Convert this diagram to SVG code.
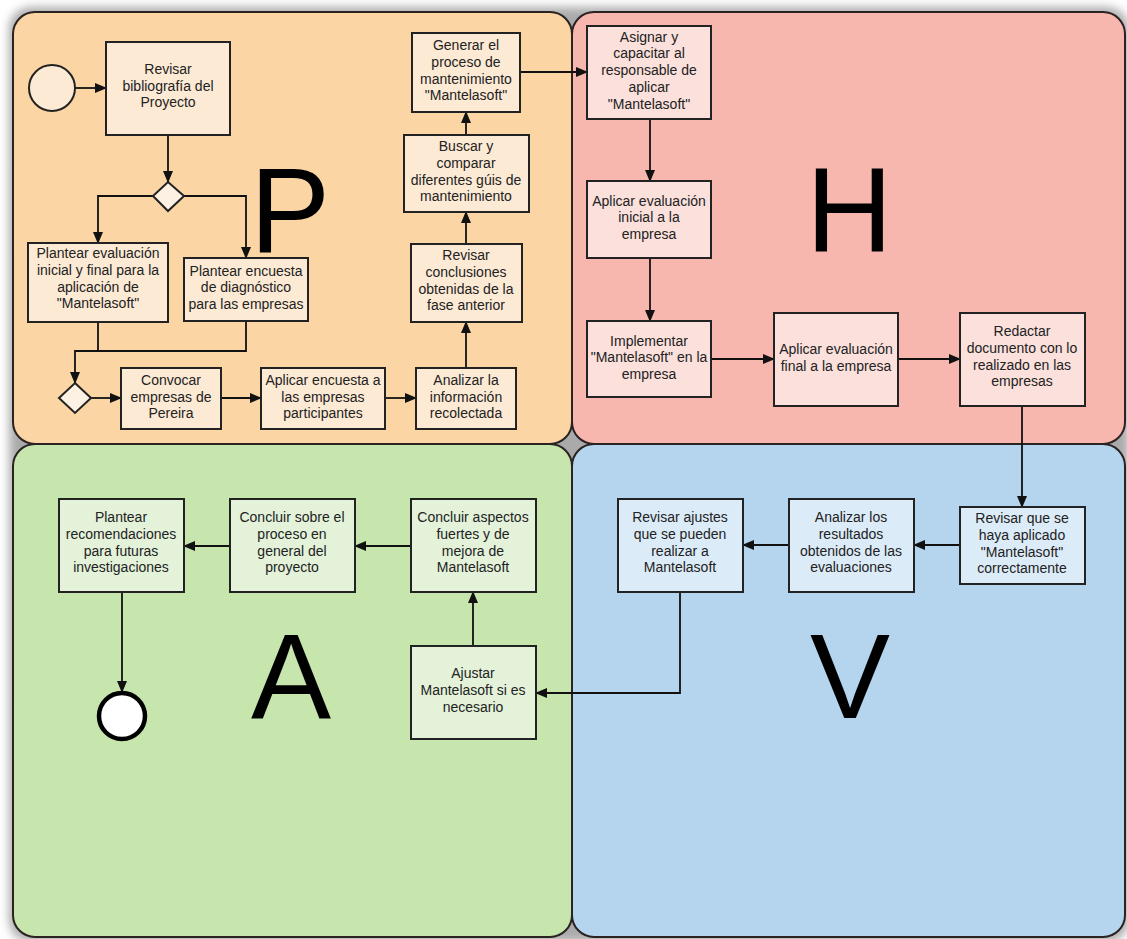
<svg xmlns="http://www.w3.org/2000/svg" width="1127" height="939" viewBox="0 0 1127 939">
<defs>
<style>
.t{font-family:"Liberation Sans",Arial,sans-serif;font-size:14px;fill:#222;text-anchor:middle}
.big{font-family:"Liberation Sans",Arial,sans-serif;font-size:120px;fill:#000}
.box{stroke:#222;stroke-width:2}
.bp{fill:#fdead5}.bh{fill:#fbe0dc}.ba{fill:#e4f2da}.bv{fill:#dcebf8}
.panel{stroke:#2b2222;stroke-width:2}
.c{fill:none;stroke:#111;stroke-width:1.8;marker-end:url(#ah)}
.cn{fill:none;stroke:#111;stroke-width:1.8}
</style>
<marker id="ah" markerUnits="userSpaceOnUse" markerWidth="12" markerHeight="10" refX="11" refY="5" orient="auto"><path d="M0,0 L12,5 L0,10 z" fill="#111"/></marker>
<filter id="sh" x="-5%" y="-5%" width="110%" height="110%"><feGaussianBlur stdDeviation="5"/></filter>
</defs>
<rect x="0" y="0" width="1127" height="939" fill="#fff"/>
<rect x="9" y="7" width="1120" height="935" rx="22" fill="#666" opacity="0.55" filter="url(#sh)"/>
<g id="panels">
<rect class="panel" x="13" y="12" width="559" height="432" rx="22" fill="#fbd5a4"/>
<rect class="panel" x="572" y="12" width="553" height="432" rx="22" fill="#f8b7ae"/>
<rect class="panel" x="13" y="444" width="559" height="493" rx="22" fill="#c6e6ae"/>
<rect class="panel" x="572" y="444" width="553" height="493" rx="22" fill="#b5d5ef"/>
</g>
<g id="letters">
<text class="big" x="250" y="252">P</text>
<text class="big" x="806" y="252">H</text>
<text class="big" x="251" y="718">A</text>
<text class="big" x="810" y="718">V</text>
</g>
<g id="connectors">
<path class="c" d="M75 88 H106"/>
<path class="c" d="M168 135 V182"/>
<path class="c" d="M153 196 H98 V243"/>
<path class="c" d="M184 196 H246 V258"/>
<path class="cn" d="M98 322 V351"/>
<path class="c" d="M246 321 V351 H75 V383"/>
<path class="c" d="M91 398 H121"/>
<path class="c" d="M221 398 H261"/>
<path class="c" d="M385 398 H416"/>
<path class="c" d="M466 368 V322"/>
<path class="c" d="M466 244 V212"/>
<path class="c" d="M466 135 V112"/>
<path class="c" d="M520 72 H587"/>
<path class="c" d="M650 119 V181"/>
<path class="c" d="M650 258 V321"/>
<path class="c" d="M711 359 H774"/>
<path class="c" d="M898 359 H960"/>
<path class="c" d="M1022 406 V507"/>
<path class="c" d="M960 545 H914"/>
<path class="c" d="M789 545 H743"/>
<path class="c" d="M680 592 V693 H536"/>
<path class="c" d="M473 646 V592"/>
<path class="c" d="M411 546 H355"/>
<path class="c" d="M230 546 H184"/>
<path class="c" d="M122 592 V692"/>
</g>
<g id="start"><circle cx="52" cy="88" r="23" fill="#fdead5" stroke="#222" stroke-width="2"/></g>
<g id="end"><circle cx="122" cy="716" r="23" fill="#fff" stroke="#000" stroke-width="4.5"/></g>
<g id="gw1"><polygon points="168,182 184,196 168,211 153,196" fill="#fdf1e3" stroke="#222" stroke-width="2"/></g>
<g id="gw2"><polygon points="75,383 91,398 75,413 59,398" fill="#fdf1e3" stroke="#222" stroke-width="2"/></g>
<g id="n1"><rect class="box bp" x="106" y="42" width="124" height="93"/>
<text class="t" x="168" y="74">Revisar</text><text class="t" x="168" y="91">bibliografía del</text><text class="t" x="168" y="107">Proyecto</text></g>
<g id="n2"><rect class="box bp" x="28" y="243" width="140" height="79"/>
<text class="t" x="98" y="258">Plantear evaluación</text><text class="t" x="98" y="275">inicial y final para la</text><text class="t" x="98" y="292">aplicación de</text><text class="t" x="98" y="308">"Mantelasoft"</text></g>
<g id="n3"><rect class="box bp" x="184" y="258" width="124" height="63"/>
<text class="t" x="246" y="276">Plantear encuesta</text><text class="t" x="246" y="292">de diagnóstico</text><text class="t" x="246" y="309">para las empresas</text></g>
<g id="n4"><rect class="box bp" x="121" y="368" width="100" height="61"/>
<text class="t" x="171" y="385">Convocar</text><text class="t" x="171" y="402">empresas de</text><text class="t" x="171" y="418">Pereira</text></g>
<g id="n5"><rect class="box bp" x="261" y="368" width="124" height="61"/>
<text class="t" x="323" y="385">Aplicar encuesta a</text><text class="t" x="323" y="402">las empresas</text><text class="t" x="323" y="418">participantes</text></g>
<g id="n6"><rect class="box bp" x="416" y="368" width="100" height="61"/>
<text class="t" x="466" y="385">Analizar la</text><text class="t" x="466" y="402">información</text><text class="t" x="466" y="418">recolectada</text></g>
<g id="n7"><rect class="box bp" x="411" y="244" width="111" height="78"/>
<text class="t" x="466" y="260">Revisar</text><text class="t" x="466" y="277">conclusiones</text><text class="t" x="466" y="294">obtenidas de la</text><text class="t" x="466" y="310">fase anterior</text></g>
<g id="n8"><rect class="box bp" x="404" y="135" width="125" height="77"/>
<text class="t" x="466" y="151">Buscar y</text><text class="t" x="466" y="168">comparar</text><text class="t" x="466" y="185">diferentes gúis de</text><text class="t" x="466" y="201">mantenimiento</text></g>
<g id="n9"><rect class="box bp" x="412" y="33" width="108" height="79"/>
<text class="t" x="466" y="50">Generar el</text><text class="t" x="466" y="67">proceso de</text><text class="t" x="466" y="84">mantenimiento</text><text class="t" x="466" y="100">"Mantelasoft"</text></g>
<g id="n10"><rect class="box bh" x="587" y="26" width="124" height="93"/>
<text class="t" x="649" y="42">Asignar y</text><text class="t" x="649" y="58">capacitar al</text><text class="t" x="649" y="75">responsable de</text><text class="t" x="649" y="92">aplicar</text><text class="t" x="649" y="109">"Mantelasoft"</text></g>
<g id="n11"><rect class="box bh" x="587" y="181" width="124" height="77"/>
<text class="t" x="649" y="206">Aplicar evaluación</text><text class="t" x="649" y="222">inicial a la</text><text class="t" x="649" y="239">empresa</text></g>
<g id="n12"><rect class="box bh" x="587" y="321" width="124" height="76"/>
<text class="t" x="649" y="346">Implementar</text><text class="t" x="649" y="362">"Mantelasoft" en la</text><text class="t" x="649" y="379">empresa</text></g>
<g id="n13"><rect class="box bh" x="774" y="313" width="124" height="93"/>
<text class="t" x="836" y="354">Aplicar evaluación</text><text class="t" x="836" y="371">final a la empresa</text></g>
<g id="n14"><rect class="box bh" x="960" y="313" width="125" height="93"/>
<text class="t" x="1022" y="336">Redactar</text><text class="t" x="1022" y="353">documento con lo</text><text class="t" x="1022" y="370">realizado en las</text><text class="t" x="1022" y="386">empresas</text></g>
<g id="n15"><rect class="box bv" x="960" y="507" width="125" height="77"/>
<text class="t" x="1022" y="523">Revisar que se</text><text class="t" x="1022" y="540">haya aplicado</text><text class="t" x="1022" y="557">"Mantelasoft"</text><text class="t" x="1022" y="573">correctamente</text></g>
<g id="n16"><rect class="box bv" x="789" y="499" width="125" height="93"/>
<text class="t" x="851" y="522">Analizar los</text><text class="t" x="851" y="539">resultados</text><text class="t" x="851" y="556">obtenidos de las</text><text class="t" x="851" y="572">evaluaciones</text></g>
<g id="n17"><rect class="box bv" x="618" y="499" width="125" height="93"/>
<text class="t" x="680" y="522">Revisar ajustes</text><text class="t" x="680" y="539">que se pueden</text><text class="t" x="680" y="556">realizar a</text><text class="t" x="680" y="572">Mantelasoft</text></g>
<g id="n18"><rect class="box ba" x="411" y="499" width="125" height="93"/>
<text class="t" x="473" y="522">Concluir aspectos</text><text class="t" x="473" y="539">fuertes y de</text><text class="t" x="473" y="556">mejora de</text><text class="t" x="473" y="572">Mantelasoft</text></g>
<g id="n19"><rect class="box ba" x="230" y="499" width="125" height="93"/>
<text class="t" x="292" y="522">Concluir sobre el</text><text class="t" x="292" y="539">proceso en</text><text class="t" x="292" y="556">general del</text><text class="t" x="292" y="572">proyecto</text></g>
<g id="n20"><rect class="box ba" x="59" y="499" width="125" height="93"/>
<text class="t" x="121" y="522">Plantear</text><text class="t" x="121" y="539">recomendaciones</text><text class="t" x="121" y="556">para futuras</text><text class="t" x="121" y="572">investigaciones</text></g>
<g id="n21"><rect class="box ba" x="411" y="646" width="125" height="93"/>
<text class="t" x="473" y="678">Ajustar</text><text class="t" x="473" y="695">Mantelasoft si es</text><text class="t" x="473" y="712">necesario</text></g>
</svg>
